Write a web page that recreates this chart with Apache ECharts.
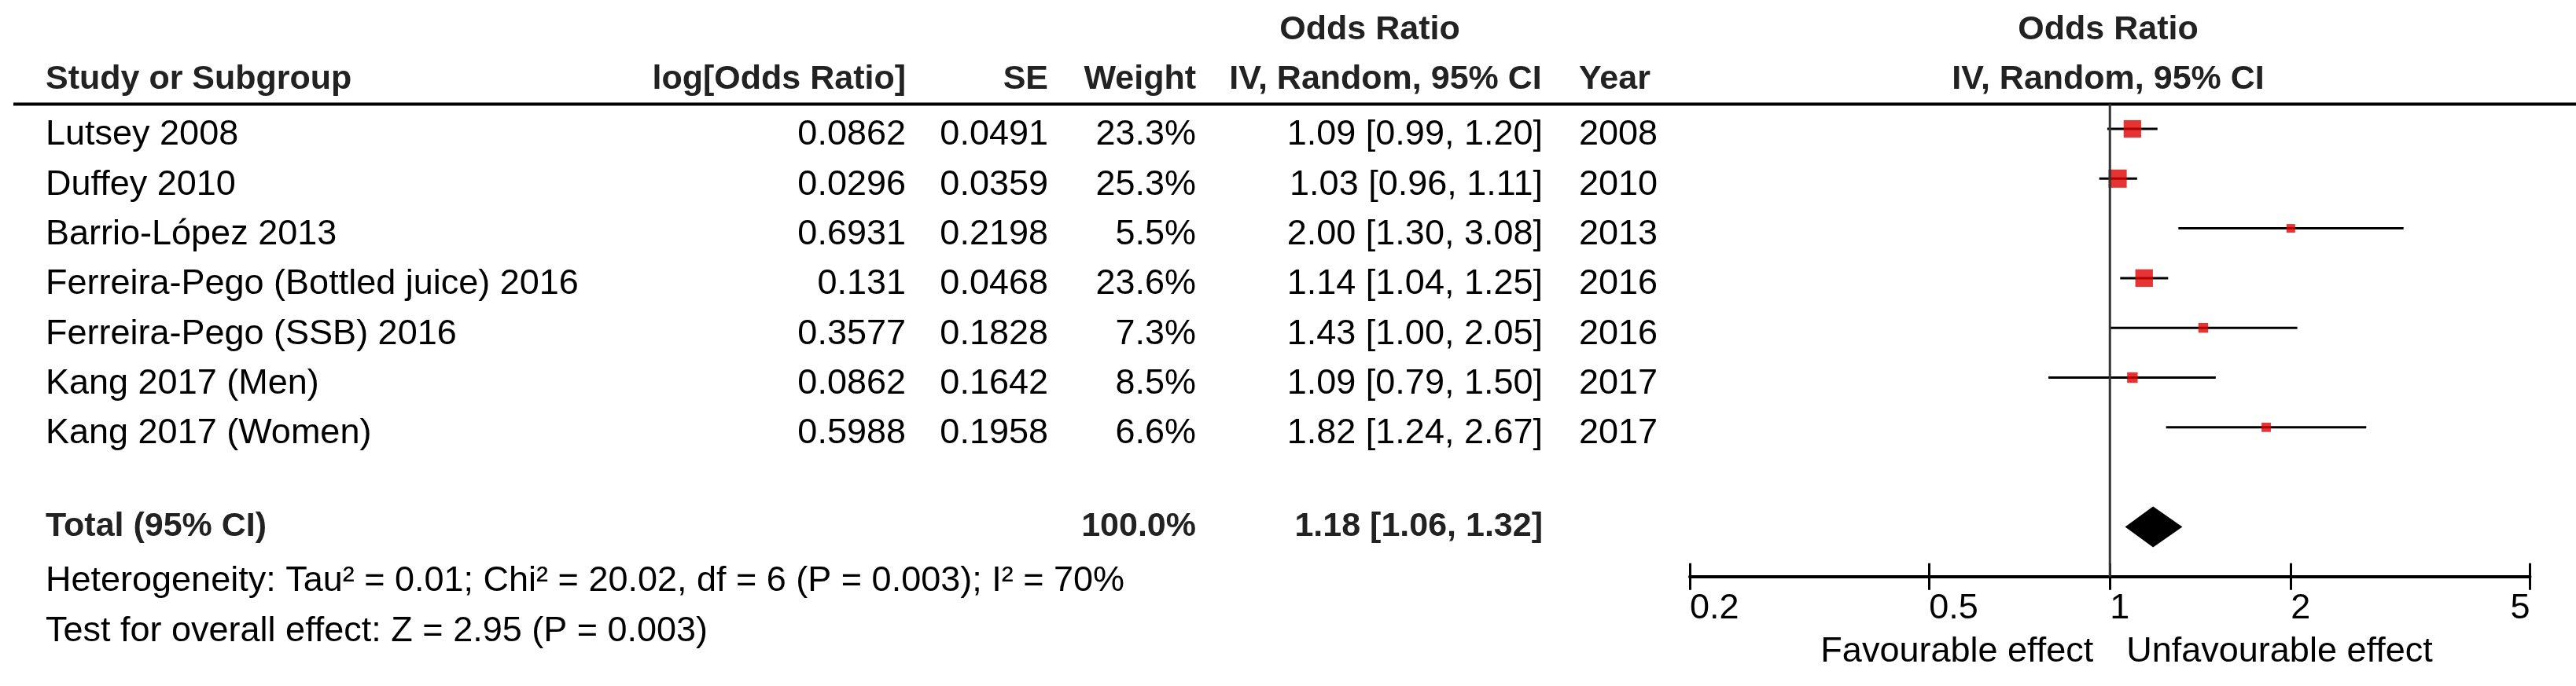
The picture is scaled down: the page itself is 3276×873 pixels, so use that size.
<!DOCTYPE html>
<html>
<head>
<meta charset="utf-8">
<title>Forest plot</title>
<script src="https://cdn.jsdelivr.net/npm/echarts@6.0.0/dist/echarts.min.js"></script>
<style>
  html, body { margin: 0; padding: 0; background: #fff; }
  #chart { width: 3276px; height: 873px; }
</style>
</head>
<body>
<div id="chart"></div>
<script>
// --- data ---
const studies = ['Lutsey 2008', 'Duffey 2010', 'Barrio-López 2013', 'Ferreira-Pego (Bottled juice) 2016',
  'Ferreira-Pego (SSB) 2016', 'Kang 2017 (Men)', 'Kang 2017 (Women)']
const logOR = [0.0862, 0.0296, 0.6931, 0.131, 0.3577, 0.0862, 0.5988]
const se = [0.0491, 0.0359, 0.2198, 0.0468, 0.1828, 0.1642, 0.1958]
const weights = [23.3, 25.3, 5.5, 23.6, 7.3, 8.5, 6.6]
const oddsRatio = [1.09, 1.03, 2.00, 1.14, 1.43, 1.09, 1.82]
const ciLow = [0.99, 0.96, 1.30, 1.04, 1.00, 0.79, 1.24]
const ciHigh = [1.20, 1.11, 3.08, 1.25, 2.05, 1.50, 2.67]
const years = [2008, 2010, 2013, 2016, 2016, 2017, 2017]

const totalWeight = 100.0
const totalOR = 1.18
const totalLow = 1.06
const totalHigh = 1.32

const heterogeneityText = 'Heterogeneity: Tau² = 0.01; Chi² = 20.02, df = 6 (P = 0.003); I² = 70%'
const overallText = 'Test for overall effect: Z = 2.95 (P = 0.003)'

const tickValues = [0.2, 0.5, 1, 2, 5]
const effectLabels = ['Favourable effect', 'Unfavourable effect']

// --- layout ---
const FONT = '"Liberation Sans", Arial, sans-serif'
const ROW_H = 63.3
const TOTAL_ROW = 8
const COL = { study: 58, logOR: 1152, se: 1333, weight: 1521, ci: 1962, ciHead: 1762, orHead: 1742, year: 2008, plotHead: 2681 }
const HEAD_ROWS = [-2.12, -1.12]
const FOOT_ROWS = [7.87, 8.97, 9.98]   // total text, heterogeneity, overall effect

const fmtCI = (o, l, h) => `${o.toFixed(2)} [${l.toFixed(2)}, ${h.toFixed(2)}]`
const log = v => Math.log10(v)

// table cells: text, x anchor, row, alignment, bold
const cells = []
function cell(text, x, y, align, bold) { cells.push({ text: String(text), x, y, align, bold: !!bold }) }

cell('Odds Ratio', COL.orHead, HEAD_ROWS[0], 'center', true)
cell('Odds Ratio', COL.plotHead, HEAD_ROWS[0], 'center', true)
cell('Study or Subgroup', COL.study, HEAD_ROWS[1], 'left', true)
cell('log[Odds Ratio]', COL.logOR, HEAD_ROWS[1], 'right', true)
cell('SE', COL.se, HEAD_ROWS[1], 'right', true)
cell('Weight', COL.weight, HEAD_ROWS[1], 'right', true)
cell('IV, Random, 95% CI', COL.ciHead, HEAD_ROWS[1], 'center', true)
cell('Year', COL.year, HEAD_ROWS[1], 'left', true)
cell('IV, Random, 95% CI', COL.plotHead, HEAD_ROWS[1], 'center', true)

studies.forEach((s, i) => {
  cell(s, COL.study, i, 'left')
  cell(logOR[i], COL.logOR, i, 'right')
  cell(se[i], COL.se, i, 'right')
  cell(weights[i].toFixed(1) + '%', COL.weight, i, 'right')
  cell(fmtCI(oddsRatio[i], ciLow[i], ciHigh[i]), COL.ci, i, 'right')
  cell(years[i], COL.year, i, 'left')
})

cell('Total (95% CI)', COL.study, FOOT_ROWS[0], 'left', true)
cell(totalWeight.toFixed(1) + '%', COL.weight, FOOT_ROWS[0], 'right', true)
cell(fmtCI(totalOR, totalLow, totalHigh), COL.ci, FOOT_ROWS[0], 'right', true)
cell(heterogeneityText, COL.study, FOOT_ROWS[1], 'left')
cell(overallText, COL.study, FOOT_ROWS[2], 'left')

const tickPos = tickValues.map(log)
function tickLabel(v) {
  let best = 0
  tickPos.forEach((p, i) => { if (Math.abs(p - v) < Math.abs(tickPos[best] - v)) best = i })
  return String(tickValues[best])
}

const baseXAxis = {
  gridIndex: 1,
  type: 'value',
  min: log(tickValues[0]),
  max: log(tickValues[tickValues.length - 1]),
  position: 'bottom',
  splitLine: { show: false },
  nameLocation: 'middle',
  nameGap: 96,
}

const chart = echarts.init(document.getElementById('chart'))
chart.setOption({
  animation: false,
  backgroundColor: '#fff',
  grid: [
    { left: 0, right: 0, top: 13.75, height: 13 * ROW_H, outerBoundsMode: 'none' },
    { left: 2149, width: 1068.5, top: 5.75, height: 11.5 * ROW_H, outerBoundsMode: 'none' },
  ],
  xAxis: [
    { gridIndex: 0, type: 'value', min: 0, max: 3276, show: false },
    {
      ...baseXAxis,
      axisLine: { show: true, onZero: false, lineStyle: { color: '#000', width: 4 } },
      axisTick: { show: true, customValues: tickPos, length: 17, lineStyle: { color: '#000', width: 3 } },
      axisLabel: {
        show: true, customValues: tickPos, formatter: tickLabel,
        align: 'left', alignMaxLabel: 'right', verticalAlign: 'middle', margin: 41,
        fontSize: 45, fontFamily: FONT, color: '#000',
      },
      name: effectLabels[0],
      nameTextStyle: { align: 'right', verticalAlign: 'middle', padding: [0, 21, 0, 0], fontSize: 45, fontFamily: FONT, color: '#000' },
    },
    {
      ...baseXAxis,
      axisLine: { show: false, onZero: false },
      axisTick: { show: true, inside: true, customValues: tickPos, length: 17, lineStyle: { color: '#000', width: 3 } },
      axisLabel: { show: false },
      name: effectLabels[1],
      nameTextStyle: { align: 'left', verticalAlign: 'middle', padding: [0, 0, 0, 21], fontSize: 45, fontFamily: FONT, color: '#000' },
    },
  ],
  yAxis: [
    { gridIndex: 0, type: 'value', inverse: true, min: -2.5, max: 10.5, show: false },
    { gridIndex: 1, type: 'value', inverse: true, min: -2.5, max: 9, show: false },
  ],
  graphic: [
    { type: 'rect', left: 17, top: 130.5, shape: { width: 3259, height: 4 }, style: { fill: '#000' }, silent: true },
  ],
  series: [
    {
      // table text
      type: 'custom', xAxisIndex: 0, yAxisIndex: 0, silent: true,
      data: cells.map(c => [c.x, c.y]),
      renderItem: (params, api) => {
        const c = cells[params.dataIndex]
        const p = api.coord([api.value(0), api.value(1)])
        return {
          type: 'text', x: p[0], y: p[1],
          style: {
            text: c.text, align: c.align, verticalAlign: 'middle',
            fontSize: c.bold ? 43 : 45, fontWeight: c.bold ? 'bold' : 'normal',
            fontFamily: FONT, fill: c.bold ? '#222' : '#000',
          },
        }
      },
    },
    {
      // line of no effect
      type: 'line', xAxisIndex: 1, yAxisIndex: 1, silent: true,
      data: [[log(1), -0.5], [log(1), 9]],
      symbol: 'none', lineStyle: { color: '#333', width: 3 },
    },
    {
      // confidence intervals
      type: 'custom', xAxisIndex: 1, yAxisIndex: 1, silent: true,
      data: studies.map((_, i) => [log(ciLow[i]), log(ciHigh[i]), i]),
      renderItem: (params, api) => {
        const a = api.coord([api.value(0), api.value(2)])
        const b = api.coord([api.value(1), api.value(2)])
        return { type: 'line', shape: { x1: a[0], y1: a[1], x2: b[0], y2: b[1] }, style: { stroke: '#000', lineWidth: 3 } }
      },
    },
    {
      // study estimates, square size by weight
      type: 'scatter', xAxisIndex: 1, yAxisIndex: 1, silent: true,
      data: studies.map((_, i) => [log(oddsRatio[i]), i]),
      symbol: 'rect',
      symbolSize: (v, p) => Math.max(11, 4.6 * Math.sqrt(weights[p.dataIndex])),
      itemStyle: { color: '#e00000' },
    },
    {
      // pooled estimate diamond
      type: 'custom', xAxisIndex: 1, yAxisIndex: 1, silent: true,
      data: [[log(totalLow), log(totalOR), log(totalHigh), TOTAL_ROW]],
      renderItem: (params, api) => {
        const y = api.value(3)
        const l = api.coord([api.value(0), y])
        const m = api.coord([api.value(1), y])
        const r = api.coord([api.value(2), y])
        const h = 26
        return {
          type: 'polygon',
          shape: { points: [[l[0], l[1]], [m[0], m[1] - h], [r[0], r[1]], [m[0], m[1] + h]] },
          style: { fill: '#000' },
        }
      },
    },
  ],
})
window.addEventListener('resize', () => chart.resize())
</script>
</body>
</html>
